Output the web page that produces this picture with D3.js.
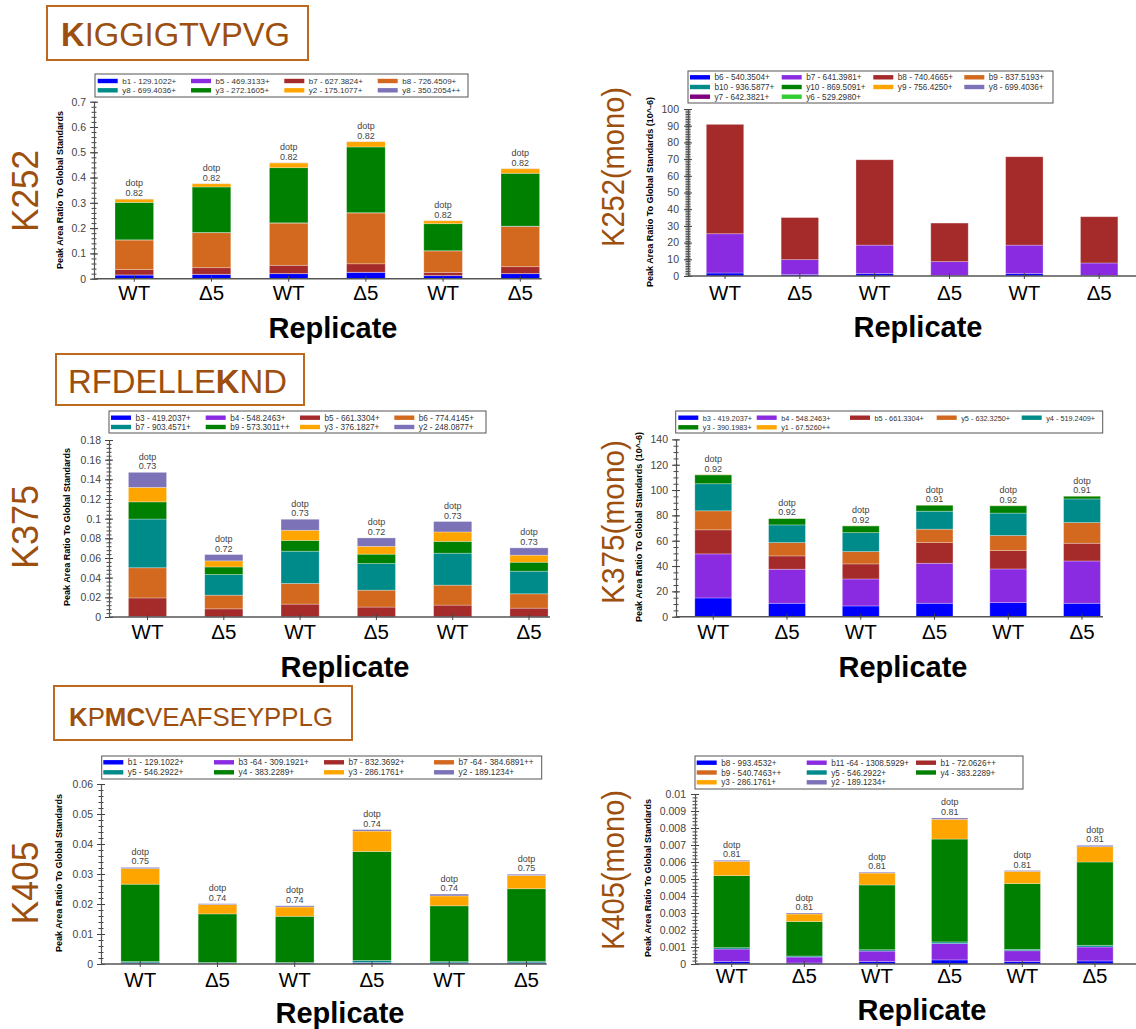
<!DOCTYPE html>
<html>
<head>
<meta charset="utf-8">
<title>Peak Area Ratio</title>
<script src="https://cdn.jsdelivr.net/npm/d3@7"></script>
<style>
  body { margin: 0; background: #fff; }
  text { font-family: Arial, "Liberation Sans", sans-serif; }
</style>
</head>
<body>
<svg width="1136" height="1029" id="mainsvg"></svg>
<script>
const svg = d3.select('#mainsvg');

const replicates = ['WT', 'Δ5', 'WT', 'Δ5', 'WT', 'Δ5'];
const ionColors = ['#0000ff', '#8a2be2', '#a52a2a', '#d2691e', '#008b8b', '#008000', '#ffa500', '#7b72b8', '#800080', '#32cd32'];

// K252 - KIGGIGTVPVG
const k252Ions = ['b1 - 129.1022+', 'b5 - 469.3133+', 'b7 - 627.3824+', 'b8 - 726.4509+',
                  'y8 - 699.4036+', 'y3 - 272.1605+', 'y2 - 175.1077+', 'y8 - 350.2054++'];
const k252Values = [
  [0.0145, 0.017, 0.0198, 0.025, 0.012, 0.0198],
  [0.0005, 0.0005, 0.0005, 0.0006, 0.0003, 0.0005],
  [0.021, 0.026, 0.0327, 0.0334, 0.0127, 0.0272],
  [0.117, 0.1385, 0.167, 0.201, 0.085, 0.1595],
  [0.0008, 0.0008, 0.001, 0.001, 0.0006, 0.0009],
  [0.148, 0.18, 0.218, 0.26, 0.107, 0.209],
  [0.013, 0.013, 0.019, 0.021, 0.012, 0.018],
  [0.0005, 0.0005, 0.0005, 0.0005, 0.0004, 0.0005]
];
const k252Dotp = [0.82, 0.82, 0.82, 0.82, 0.82, 0.82];

// K252(mono)
const k252mIons = ['b6 - 540.3504+', 'b7 - 641.3981+', 'b8 - 740.4665+', 'b9 - 837.5193+', 'b10 - 936.5877+',
                   'y10 - 869.5091+', 'y9 - 756.4250+', 'y8 - 699.4036+', 'y7 - 642.3821+', 'y6 - 529.2980+'];
const k252mValues = [
  [1.8, 0.8, 1.4, 0.3, 1.4, 0.3],
  [23.5, 9.0, 17.1, 8.3, 17.1, 7.5],
  [65.5, 25.2, 51.1, 23.1, 52.9, 27.7],
  [0, 0, 0, 0, 0, 0],
  [0, 0, 0, 0, 0, 0],
  [0, 0, 0, 0, 0, 0],
  [0, 0, 0, 0, 0, 0],
  [0, 0, 0, 0, 0, 0],
  [0, 0, 0, 0, 0, 0],
  [0, 0, 0, 0, 0, 0]
];

// K375 - RFDELLEKND
const k375Ions = ['b3 - 419.2037+', 'b4 - 548.2463+', 'b5 - 661.3304+', 'b6 - 774.4145+',
                  'b7 - 903.4571+', 'b9 - 573.3011++', 'y3 - 376.1827+', 'y2 - 248.0877+'];
const k375Values = [
  [0.0002, 0.0001, 0.0001, 0.0001, 0.0001, 0.0001],
  [0.0002, 0.0001, 0.0001, 0.0001, 0.0001, 0.0001],
  [0.019, 0.0081, 0.0129, 0.0099, 0.0119, 0.0088],
  [0.0307, 0.0139, 0.021, 0.0172, 0.0203, 0.0146],
  [0.0495, 0.021, 0.0328, 0.0271, 0.0325, 0.023],
  [0.0175, 0.0077, 0.011, 0.0095, 0.012, 0.0091],
  [0.0147, 0.0062, 0.0103, 0.008, 0.0096, 0.0072],
  [0.0153, 0.0064, 0.0112, 0.0085, 0.0106, 0.0074]
];
const k375Dotp = [0.73, 0.72, 0.73, 0.72, 0.73, 0.73];

// K375(mono)
const k375mIons = ['b3 - 419.2037+', 'b4 - 548.2463+', 'b5 - 661.3304+', 'y5 - 632.3250+',
                   'y4 - 519.2409+', 'y3 - 390.1983+', 'y1 - 67.5260++'];
const k375mValues = [
  [14.8, 10.6, 8.5, 10.6, 11.1, 10.6],
  [34.8, 26.9, 21.3, 31.6, 26.6, 33.4],
  [19.0, 10.5, 11.9, 16.3, 14.5, 14.0],
  [15.0, 10.5, 9.7, 10.6, 11.9, 16.3],
  [21.4, 14.0, 15.0, 14.2, 17.7, 18.7],
  [7.0, 5.0, 5.3, 4.8, 5.8, 2.2],
  [0.2, 0.1, 0.1, 0.1, 0.1, 0.1]
];
const k375mDotp = [0.92, 0.92, 0.92, 0.91, 0.92, 0.91];

// K405 - KPMCVEAFSEYPPLG
const k405Ions = ['b1 - 129.1022+', 'b3 -64 - 309.1921+', 'b7 - 832.3692+', 'b7 -64 - 384.6891++',
                  'y5 - 546.2922+', 'y4 - 383.2289+', 'y3 - 286.1761+', 'y2 - 189.1234+'];
const k405Values = [
  [0.0003, 0.0002, 0.0002, 0.0004, 0.0003, 0.0003],
  [0.0001, 0.0001, 0.0001, 0.0001, 0.0001, 0.0001],
  [0, 0, 0, 0, 0, 0],
  [0, 0, 0, 0, 0, 0],
  [0.0004, 0.0002, 0.0002, 0.0007, 0.0004, 0.0005],
  [0.0258, 0.0162, 0.0154, 0.0363, 0.0186, 0.0242],
  [0.0052, 0.0031, 0.0031, 0.0068, 0.0033, 0.0044],
  [0.0004, 0.0003, 0.0004, 0.0005, 0.0006, 0.0004]
];
const k405Dotp = [0.75, 0.74, 0.74, 0.74, 0.74, 0.75];

// K405(mono)
const k405mIons = ['b8 - 993.4532+', 'b11 -64 - 1308.5929+', 'b1 - 72.0626++', 'b9 - 540.7463++',
                   'y5 - 546.2922+', 'y4 - 383.2289+', 'y3 - 286.1761+', 'y2 - 189.1234+'];
const k405mValues = [
  [0.00014, 0.00006, 0.00014, 0.00024, 0.00014, 0.00018],
  [0.00074, 0.00035, 0.00062, 0.00096, 0.00064, 0.00082],
  [0, 0, 0, 0, 0, 0],
  [0, 0, 0, 0, 0, 0],
  [0.00008, 0.00006, 0.00008, 0.0001, 0.00008, 0.0001],
  [0.00424, 0.00203, 0.00381, 0.00605, 0.00387, 0.0049],
  [0.00084, 0.00044, 0.0007, 0.00116, 0.00072, 0.0009],
  [0.00006, 0.00006, 0.00005, 0.00008, 0.00005, 0.00008]
];
const k405mDotp = [0.81, 0.81, 0.81, 0.81, 0.81, 0.81];

const yTitle = 'Peak Area Ratio To Global Standards';
const brown = '#9c4f0e';

// layout of every panel
const panels = [
  { site: 'K252', siteX: 25, siteY: 191, siteLen: 82, siteSize: 36,
    ions: k252Ions, values: k252Values, dotp: k252Dotp, yLabel: yTitle,
    yMax: 0.7, major: 0.1, minor: 0.02, y0: 278.7, yTop: 101.7, axisX: 94, axisEnd: 541.7,
    band: [95.7, 558.9], tickX: 86, yLabX: 60, yLabY: 190, repY: 338, repX: 333, catY: 300,
    legend: { x: 95, y: 74, w: 373, h: 23, cols: [2.7, 96, 189.3, 282.7], row0: 7, rowH: 9.3, font: 8 } },
  { site: 'K252(mono)', siteX: 613, siteY: 167, siteLen: 160, siteSize: 31,
    ions: k252mIons, values: k252mValues, dotp: null, yLabel: yTitle + ' (10^-6)',
    yMax: 100, major: 10, minor: 1, y0: 276, yTop: 109, axisX: 688, axisEnd: 1136,
    band: [687.6, 1136.6], tickX: 679, yLabX: 650, yLabY: 192, repY: 337, repX: 918, catY: 300,
    legend: { x: 688, y: 71, w: 365, h: 32, cols: [2, 93.7, 185.3, 276.3], row0: 6.3, rowH: 9.7, font: 8.2 } },
  { site: 'K375', siteX: 25, siteY: 527, siteLen: 84, siteSize: 36,
    ions: k375Ions, values: k375Values, dotp: k375Dotp, yLabel: yTitle,
    yMax: 0.18, major: 0.02, minor: 0.004, y0: 617, yTop: 440, axisX: 109, axisEnd: 550,
    band: [109.35, 567.15], tickX: 101, yLabX: 67, yLabY: 527, repY: 677, repX: 345, catY: 639,
    legend: { x: 109, y: 411, w: 377, h: 22, cols: [2, 96.7, 191, 285.3], row0: 6.7, rowH: 9.3, font: 8.2 } },
  { site: 'K375(mono)', siteX: 613, siteY: 522, siteLen: 164, siteSize: 31,
    ions: k375mIons, values: k375mValues, dotp: k375mDotp, yLabel: yTitle + ' (10^-6)',
    yMax: 140, major: 20, minor: 5, y0: 616.7, yTop: 439.4, axisX: 676, axisEnd: 1103,
    band: [676.4, 1118.9], tickX: 668, yLabX: 639, yLabY: 527, repY: 677, repX: 903, catY: 639,
    legend: { x: 675.7, y: 411, w: 427, h: 22, cols: [2.6, 81, 174.3, 261, 346], row0: 6.7, rowH: 9.6, font: 7.3 } },
  { site: 'K405', siteX: 25, siteY: 883, siteLen: 83, siteSize: 36,
    ions: k405Ions, values: k405Values, dotp: k405Dotp, yLabel: yTitle,
    yMax: 0.06, major: 0.01, minor: 0.002, y0: 964, yTop: 784, axisX: 101, axisEnd: 546.7,
    band: [101.6, 565.1], tickX: 93, yLabX: 59, yLabY: 873, repY: 1023, repX: 340, catY: 986.7,
    legend: { x: 101.7, y: 756, w: 440, h: 23, cols: [1.6, 112.3, 222.3, 332.3], row0: 6.3, rowH: 10, font: 8.3 } },
  { site: 'K405(mono)', siteX: 613, siteY: 870, siteLen: 160, siteSize: 31,
    ions: k405mIons, values: k405mValues, dotp: k405mDotp, yLabel: yTitle,
    yMax: 0.01, major: 0.001, minor: 0.0002, y0: 964, yTop: 794, axisX: 695, axisEnd: 1136,
    band: [695.4, 1131.3], tickX: 686, yLabX: 648, yLabY: 878, repY: 1020, repX: 922, catY: 983.3,
    legend: { x: 695, y: 756, w: 328, h: 33, cols: [1.7, 111.7, 221], row0: 6.7, rowH: 9.8, font: 8.2 } }
];

// peptide boxes, bold letters marked
const peptides = [
  { x: 47, y: 6, w: 261, h: 54, tx: 61, ty: 45.7, len: 229, size: 33,
    parts: [['K', true], ['IGGIGTVPVG', false]] },
  { x: 56, y: 354, w: 248, h: 51, tx: 68, ty: 392.5, len: 219, size: 33,
    parts: [['RFDELLE', false], ['K', true], ['ND', false]] },
  { x: 54, y: 686, w: 298, h: 54, tx: 69, ty: 725.7, len: 264, size: 25,
    parts: [['K', true], ['P', false], ['MC', true], ['VEAFSEYPPLG', false]] }
];

function fmt(v) { return String(+v.toPrecision(6)); }

function drawPanel(p) {
  const g = svg.append('g');
  const n = replicates.length;
  const y = d3.scaleLinear().domain([0, p.yMax]).range([p.y0, p.yTop]);
  const x = d3.scaleBand().domain(d3.range(n)).range(p.band).paddingInner(0.5).paddingOuter(0.25);

  // stacked bars
  const rows = replicates.map((r, j) => {
    const o = {};
    p.ions.forEach((ion, i) => { o[i] = p.values[i][j]; });
    return o;
  });
  const series = d3.stack().keys(d3.range(p.ions.length))(rows);
  g.append('g').selectAll('g').data(series).join('g')
    .attr('fill', (d, i) => ionColors[i])
    .selectAll('rect').data(d => d).join('rect')
    .attr('x', (d, j) => x(j))
    .attr('width', x.bandwidth())
    .attr('y', d => y(d[1]))
    .attr('height', d => y(d[0]) - y(d[1]))
    .attr('stroke', '#fff').attr('stroke-opacity', 0.35).attr('stroke-width', 0.8);

  // y axis, major + minor ticks crossing the line
  const majors = d3.range(0, p.yMax + p.major / 2, p.major).map(v => +v.toFixed(8));
  const minors = d3.range(0, p.yMax + p.minor / 2, p.minor).map(v => +v.toFixed(8));
  const yMinor = g.append('g').attr('transform', `translate(${p.axisX},0)`)
    .call(d3.axisLeft(y).tickValues(minors).tickSize(2.5).tickSizeOuter(0).tickFormat(''));
  yMinor.select('.domain').remove();
  yMinor.selectAll('.tick line').attr('x1', 2.5).attr('stroke', '#444');

  const yAxis = g.append('g').attr('transform', `translate(${p.axisX},0)`)
    .call(d3.axisLeft(y).tickValues(majors).tickSize(4).tickSizeOuter(0).tickFormat(fmt));
  yAxis.select('.domain').attr('stroke', '#555').attr('stroke-width', 1.2);
  yAxis.selectAll('.tick line').attr('x1', 4).attr('stroke', '#444');
  yAxis.selectAll('.tick text').attr('x', p.tickX - p.axisX)
    .attr('font-size', 10.5).attr('fill', '#444').attr('font-family', 'Arial, "Liberation Sans", sans-serif');

  // x axis
  g.append('line')
    .attr('x1', p.axisX).attr('x2', p.axisEnd).attr('y1', p.y0).attr('y2', p.y0)
    .attr('stroke', '#555').attr('stroke-width', 1.5);
  const xAxis = g.append('g').attr('transform', `translate(0,${p.y0})`)
    .call(d3.axisBottom(x).tickSize(3).tickFormat(j => replicates[j]));
  xAxis.select('.domain').remove();
  xAxis.selectAll('.tick line').attr('y1', -3).attr('stroke', '#444');
  xAxis.selectAll('.tick text').attr('y', p.catY - p.y0).attr('dy', 0)
    .attr('font-size', 20.5).attr('fill', '#000').attr('font-family', 'Arial, "Liberation Sans", sans-serif');

  // dotp labels
  if (p.dotp) {
    const tops = replicates.map((r, j) => d3.sum(p.values, s => s[j]));
    const lab = g.append('g').selectAll('g').data(tops).join('g')
      .attr('transform', (t, j) => `translate(${x(j) + x.bandwidth() / 2},${y(t)})`)
      .attr('font-size', 9).attr('fill', '#444').attr('text-anchor', 'middle');
    lab.append('text').attr('y', -12.5).text('dotp');
    lab.append('text').attr('y', -3).text((t, j) => p.dotp[j].toFixed(2));
  }

  // axis titles
  g.append('text')
    .attr('transform', `translate(${p.yLabX},${p.yLabY}) rotate(-90)`)
    .attr('text-anchor', 'middle').attr('dominant-baseline', 'central')
    .attr('font-size', 9).attr('font-weight', 'bold').text(p.yLabel);
  g.append('text')
    .attr('x', p.repX).attr('y', p.repY).attr('text-anchor', 'middle')
    .attr('font-size', 29).attr('font-weight', 'bold').text('Replicate');

  // site label
  g.append('text')
    .attr('transform', `translate(${p.siteX},${p.siteY}) rotate(-90)`)
    .attr('text-anchor', 'middle').attr('dominant-baseline', 'central')
    .attr('font-family', 'Lato, "Open Sans", sans-serif')
    .attr('font-size', p.siteSize).attr('fill', brown)
    .attr('textLength', p.siteLen).attr('lengthAdjust', 'spacingAndGlyphs')
    .text(p.site);

  // legend
  const L = p.legend, nc = L.cols.length;
  const lg = g.append('g').attr('transform', `translate(${L.x},${L.y})`);
  lg.append('rect').attr('width', L.w).attr('height', L.h)
    .attr('fill', '#fff').attr('stroke', '#555').attr('stroke-width', 1);
  const item = lg.selectAll('g.item').data(p.ions).join('g')
    .attr('transform', (d, i) => `translate(${L.cols[i % nc]},${L.row0 + Math.floor(i / nc) * L.rowH})`);
  item.append('rect').attr('y', -2.2).attr('width', 20).attr('height', 4.4)
    .attr('fill', (d, i) => ionColors[i]);
  item.append('text').attr('x', 24.5).attr('y', 3)
    .attr('font-size', L.font).attr('fill', '#333').text(d => d);
}

panels.forEach(drawPanel);

// peptide title boxes
peptides.forEach(pp => {
  svg.append('rect').attr('x', pp.x).attr('y', pp.y).attr('width', pp.w).attr('height', pp.h)
    .attr('fill', 'none').attr('stroke', '#bb6a20').attr('stroke-width', 2);
  const t = svg.append('text').attr('x', pp.tx).attr('y', pp.ty)
    .attr('font-family', 'Lato, "Open Sans", sans-serif')
    .attr('font-size', pp.size).attr('fill', brown)
    .attr('textLength', pp.len).attr('lengthAdjust', 'spacingAndGlyphs');
  pp.parts.forEach(([s, b]) => t.append('tspan').attr('font-weight', b ? 'bold' : 'normal').text(s));
});
</script>
</body>
</html>
